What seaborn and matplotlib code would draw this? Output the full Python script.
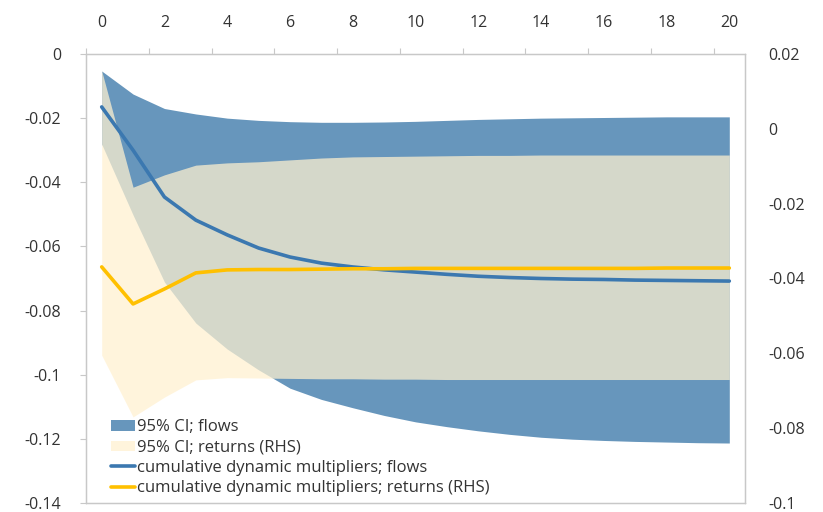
import numpy as np
import pandas as pd
import matplotlib
matplotlib.use("Agg")
import matplotlib.pyplot as plt
import seaborn as sns
from matplotlib.patches import Patch
from matplotlib.lines import Line2D

# ---- data ----
horizon = list(range(21))
flows = [-0.0165, -0.0300, -0.0446, -0.0518, -0.0564, -0.0605, -0.0633, -0.0652,
         -0.0664, -0.0673, -0.0680, -0.0687, -0.0693, -0.0697, -0.0700, -0.0702,
         -0.0703, -0.0705, -0.0706, -0.0707, -0.0708]
flows_hi = [-0.0053, -0.0125, -0.0170, -0.0187, -0.0200, -0.0207, -0.0211, -0.0213,
            -0.0213, -0.0212, -0.0210, -0.0207, -0.0204, -0.0202, -0.0200, -0.0199,
            -0.0198, -0.0197, -0.0196, -0.0196, -0.0196]
flows_lo = [-0.0281, -0.0502, -0.0711, -0.0839, -0.0920, -0.0985, -0.1042, -0.1077,
            -0.1103, -0.1127, -0.1147, -0.1162, -0.1175, -0.1186, -0.1195, -0.1201,
            -0.1205, -0.1208, -0.1210, -0.1212, -0.1213]
returns = [-0.0369, -0.0468, -0.0428, -0.0385, -0.0377, -0.0376, -0.0376, -0.0375,
           -0.0374, -0.0374, -0.0373, -0.0373, -0.0373, -0.0373, -0.0373, -0.0373,
           -0.0373, -0.0373, -0.0372, -0.0372, -0.0372]
returns_hi = [0.0155, -0.0156, -0.0123, -0.0097, -0.0091, -0.0088, -0.0083, -0.0078,
              -0.0075, -0.0074, -0.0073, -0.0072, -0.0071, -0.0071, -0.0070, -0.0070,
              -0.0070, -0.0070, -0.0070, -0.0070, -0.0070]
returns_lo = [-0.0605, -0.0770, -0.0717, -0.0671, -0.0665, -0.0666, -0.0667, -0.0668,
              -0.0668, -0.0669, -0.0669, -0.0670, -0.0670, -0.0670, -0.0670, -0.0670,
              -0.0670, -0.0670, -0.0670, -0.0670, -0.0670]
x_labels = [str(v) for v in range(0, 21, 2)]
left_ticks = [0, -0.02, -0.04, -0.06, -0.08, -0.1, -0.12, -0.14]
right_ticks = [0.02, 0, -0.02, -0.04, -0.06, -0.08, -0.1]
legend_labels = ["95% CI; flows", "95% CI; returns (RHS)",
                 "cumulative dynamic multipliers; flows",
                 "cumulative dynamic multipliers; returns (RHS)"]

df = pd.DataFrame({"h": horizon, "flows": flows, "returns": returns})

# ---- style ----
sns.set_style("white")
plt.rcParams["font.family"] = ["Open Sans", "DejaVu Sans"]
TXT = "#333333"
BLUE_BAND = "#6796BC"
BEIGE = "#FFF1D0"
BEIGE_ALPHA = 0.73
BLUE_LINE = "#3B78B0"
YELLOW = "#FFC000"
SPINE = "#C8C8C8"

fig = plt.figure(figsize=(8.23, 5.12), dpi=100)
ax = fig.add_axes([86 / 823, 1 - 503 / 512, (745 - 86) / 823, (503 - 54) / 512])
ax2 = ax.twinx()

# bands
ax.fill_between(horizon, flows_lo, flows_hi, color=BLUE_BAND, linewidth=0, zorder=1)
ax2.fill_between(horizon, returns_lo, returns_hi, color=BEIGE, alpha=BEIGE_ALPHA,
                 linewidth=0, zorder=1)
# lines (flows line drawn in ax2 layer but with left-axis transform so it sits on top)
sns.lineplot(data=df, x="h", y="flows", ax=ax2, color=BLUE_LINE, linewidth=2.6,
             transform=ax.transData, zorder=3, legend=False)
sns.lineplot(data=df, x="h", y="returns", ax=ax2, color=YELLOW, linewidth=2.6,
             zorder=4, legend=False)

ax.set_xlim(-0.5, 20.5)
ax.set_ylim(-0.14, 0)
ax2.set_ylim(-0.1, 0.02)

# x axis on top
ax.xaxis.tick_top()
ax.set_xticks(range(0, 21, 2))
ax.set_xticklabels(x_labels)
ax.set_xticks(np.arange(-0.5, 21, 2), minor=True)
ax.tick_params(axis="x", which="major", length=0, pad=16.5, labelsize=11.5, labelcolor=TXT)
ax.tick_params(axis="x", which="minor", top=True, bottom=False, length=4, width=0.8,
               color=SPINE, direction="out")
ax.set_xlabel("")

ax.set_yticks(left_ticks)
ax.set_yticklabels([f"{v:g}" for v in left_ticks])
ax.tick_params(axis="y", which="major", left=True, length=4, width=0.8, color=SPINE,
               pad=14, labelsize=11.5, labelcolor=TXT, direction="out")
ax.set_ylabel("")

ax2.set_yticks(right_ticks)
ax2.set_yticklabels([f"{v:g}" for v in right_ticks])
ax2.tick_params(axis="y", which="major", right=True, length=0, pad=17,
                labelsize=11.5, labelcolor=TXT)
ax2.set_ylabel("")
ax2.set_xlabel("")

for a in (ax, ax2):
    for s in a.spines.values():
        s.set_color(SPINE)
        s.set_linewidth(0.9)

handles = [Patch(facecolor=BLUE_BAND, edgecolor="none"),
           Patch(facecolor=BEIGE, alpha=BEIGE_ALPHA, edgecolor="none"),
           Line2D([], [], color=BLUE_LINE, linewidth=2.6),
           Line2D([], [], color=YELLOW, linewidth=2.6)]
leg = ax2.legend(handles, legend_labels, loc="lower left", bbox_to_anchor=(0.028, 0.0),
                 frameon=False, fontsize=12, handlelength=1.45, handleheight=0.6,
                 handletextpad=0.1, labelspacing=0.26, borderaxespad=0.0)
for t in leg.get_texts():
    t.set_color(TXT)

fig.savefig("out.png", dpi=100)
